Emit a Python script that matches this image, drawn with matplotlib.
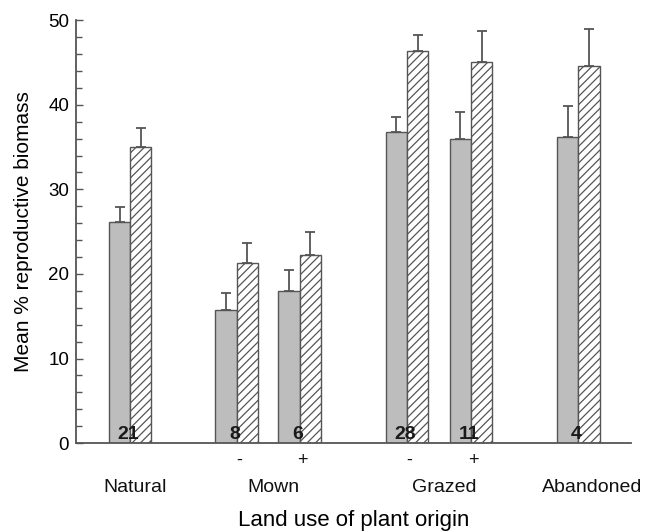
import matplotlib
matplotlib.use("Agg")
import matplotlib.pyplot as plt
import numpy as np

# ---- data ----
groups = ["Natural", "Mown -", "Mown +", "Grazed -", "Grazed +", "Abandoned"]
solid_means = [26.1, 15.8, 18.0, 36.8, 36.0, 36.2]
solid_err = [1.8, 1.9, 2.5, 1.7, 3.1, 3.6]
hatched_means = [35.0, 21.3, 22.3, 46.4, 45.1, 44.6]
hatched_err = [2.2, 2.4, 2.7, 1.9, 3.6, 4.4]
n_labels = ["21", "8", "6", "28", "11", "4"]
sub_labels = ["", "-", "+", "-", "+", ""]
category_labels = ["Natural", "Mown", "Grazed", "Abandoned"]
y_ticks = [0, 10, 20, 30, 40, 50]

# ---- layout ----
pair_centers = np.array([2.54, 7.54, 10.5, 15.53, 18.53, 23.57])
category_pos = [2.77, 9.25, 17.3, 24.2]
bw = 1.0
edge = "#555555"
fill = "#bdbdbd"

plt.rcParams["font.family"] = ["Liberation Sans", "DejaVu Sans"]
plt.rcParams["hatch.linewidth"] = 0.9

fig = plt.figure(figsize=(6.5, 5.32), dpi=100)
ax = fig.add_axes([0.117, 0.167, 0.854, 0.795])

ax.bar(pair_centers - bw / 2, solid_means, width=bw, color=fill,
       edgecolor=edge, linewidth=1.0, zorder=2)
ax.errorbar(pair_centers - bw / 2, solid_means,
            yerr=[np.zeros(len(solid_err)), solid_err], fmt="none",
            ecolor=edge, elinewidth=1.3, capsize=3.7, capthick=1.3, zorder=1)
ax.bar(pair_centers + bw / 2, hatched_means, width=bw, color="white",
       edgecolor=edge, linewidth=1.0, hatch="////", zorder=2)
ax.errorbar(pair_centers + bw / 2, hatched_means,
            yerr=[np.zeros(len(hatched_err)), hatched_err], fmt="none",
            ecolor=edge, elinewidth=1.3, capsize=3.7, capthick=1.3, zorder=1)

for x, lab in zip(pair_centers, n_labels):
    ax.text(x - 0.08, 0.05, lab, ha="center", va="bottom", fontsize=14,
            fontweight="bold", color="#1a1a1a", zorder=3)

tr = ax.get_xaxis_transform()
for x, lab in zip(pair_centers, sub_labels):
    if lab:
        ax.text(x + 0.1, -0.04, lab, ha="center", va="center", fontsize=13,
                transform=tr, color="#111111")
for x, lab in zip(category_pos, category_labels):
    ax.text(x, -0.105, lab, ha="center", va="center", fontsize=14,
            transform=tr, color="#111111")

ax.set_xlim(0, 26.05)
ax.set_ylim(0, 50)
ax.set_xticks([])
ax.set_yticks(y_ticks)
ax.set_yticks(np.arange(0, 51, 2), minor=True)
ax.tick_params(axis="y", which="major", direction="in", length=5,
               width=1.0, color=edge, labelsize=13.5, pad=5)
ax.tick_params(axis="y", which="minor", direction="in", length=4,
               width=1.0, color=edge)

for s in ["top", "right"]:
    ax.spines[s].set_visible(False)
for s in ["left", "bottom"]:
    ax.spines[s].set_color(edge)
    ax.spines[s].set_linewidth(1.3)

ax.set_ylabel("Mean % reproductive biomass", fontsize=15)
ax.yaxis.set_label_coords(-0.077, 0.5)
ax.set_xlabel("Land use of plant origin", fontsize=16)
ax.xaxis.set_label_coords(0.5, -0.158)

fig.savefig("out.png", dpi=100)
